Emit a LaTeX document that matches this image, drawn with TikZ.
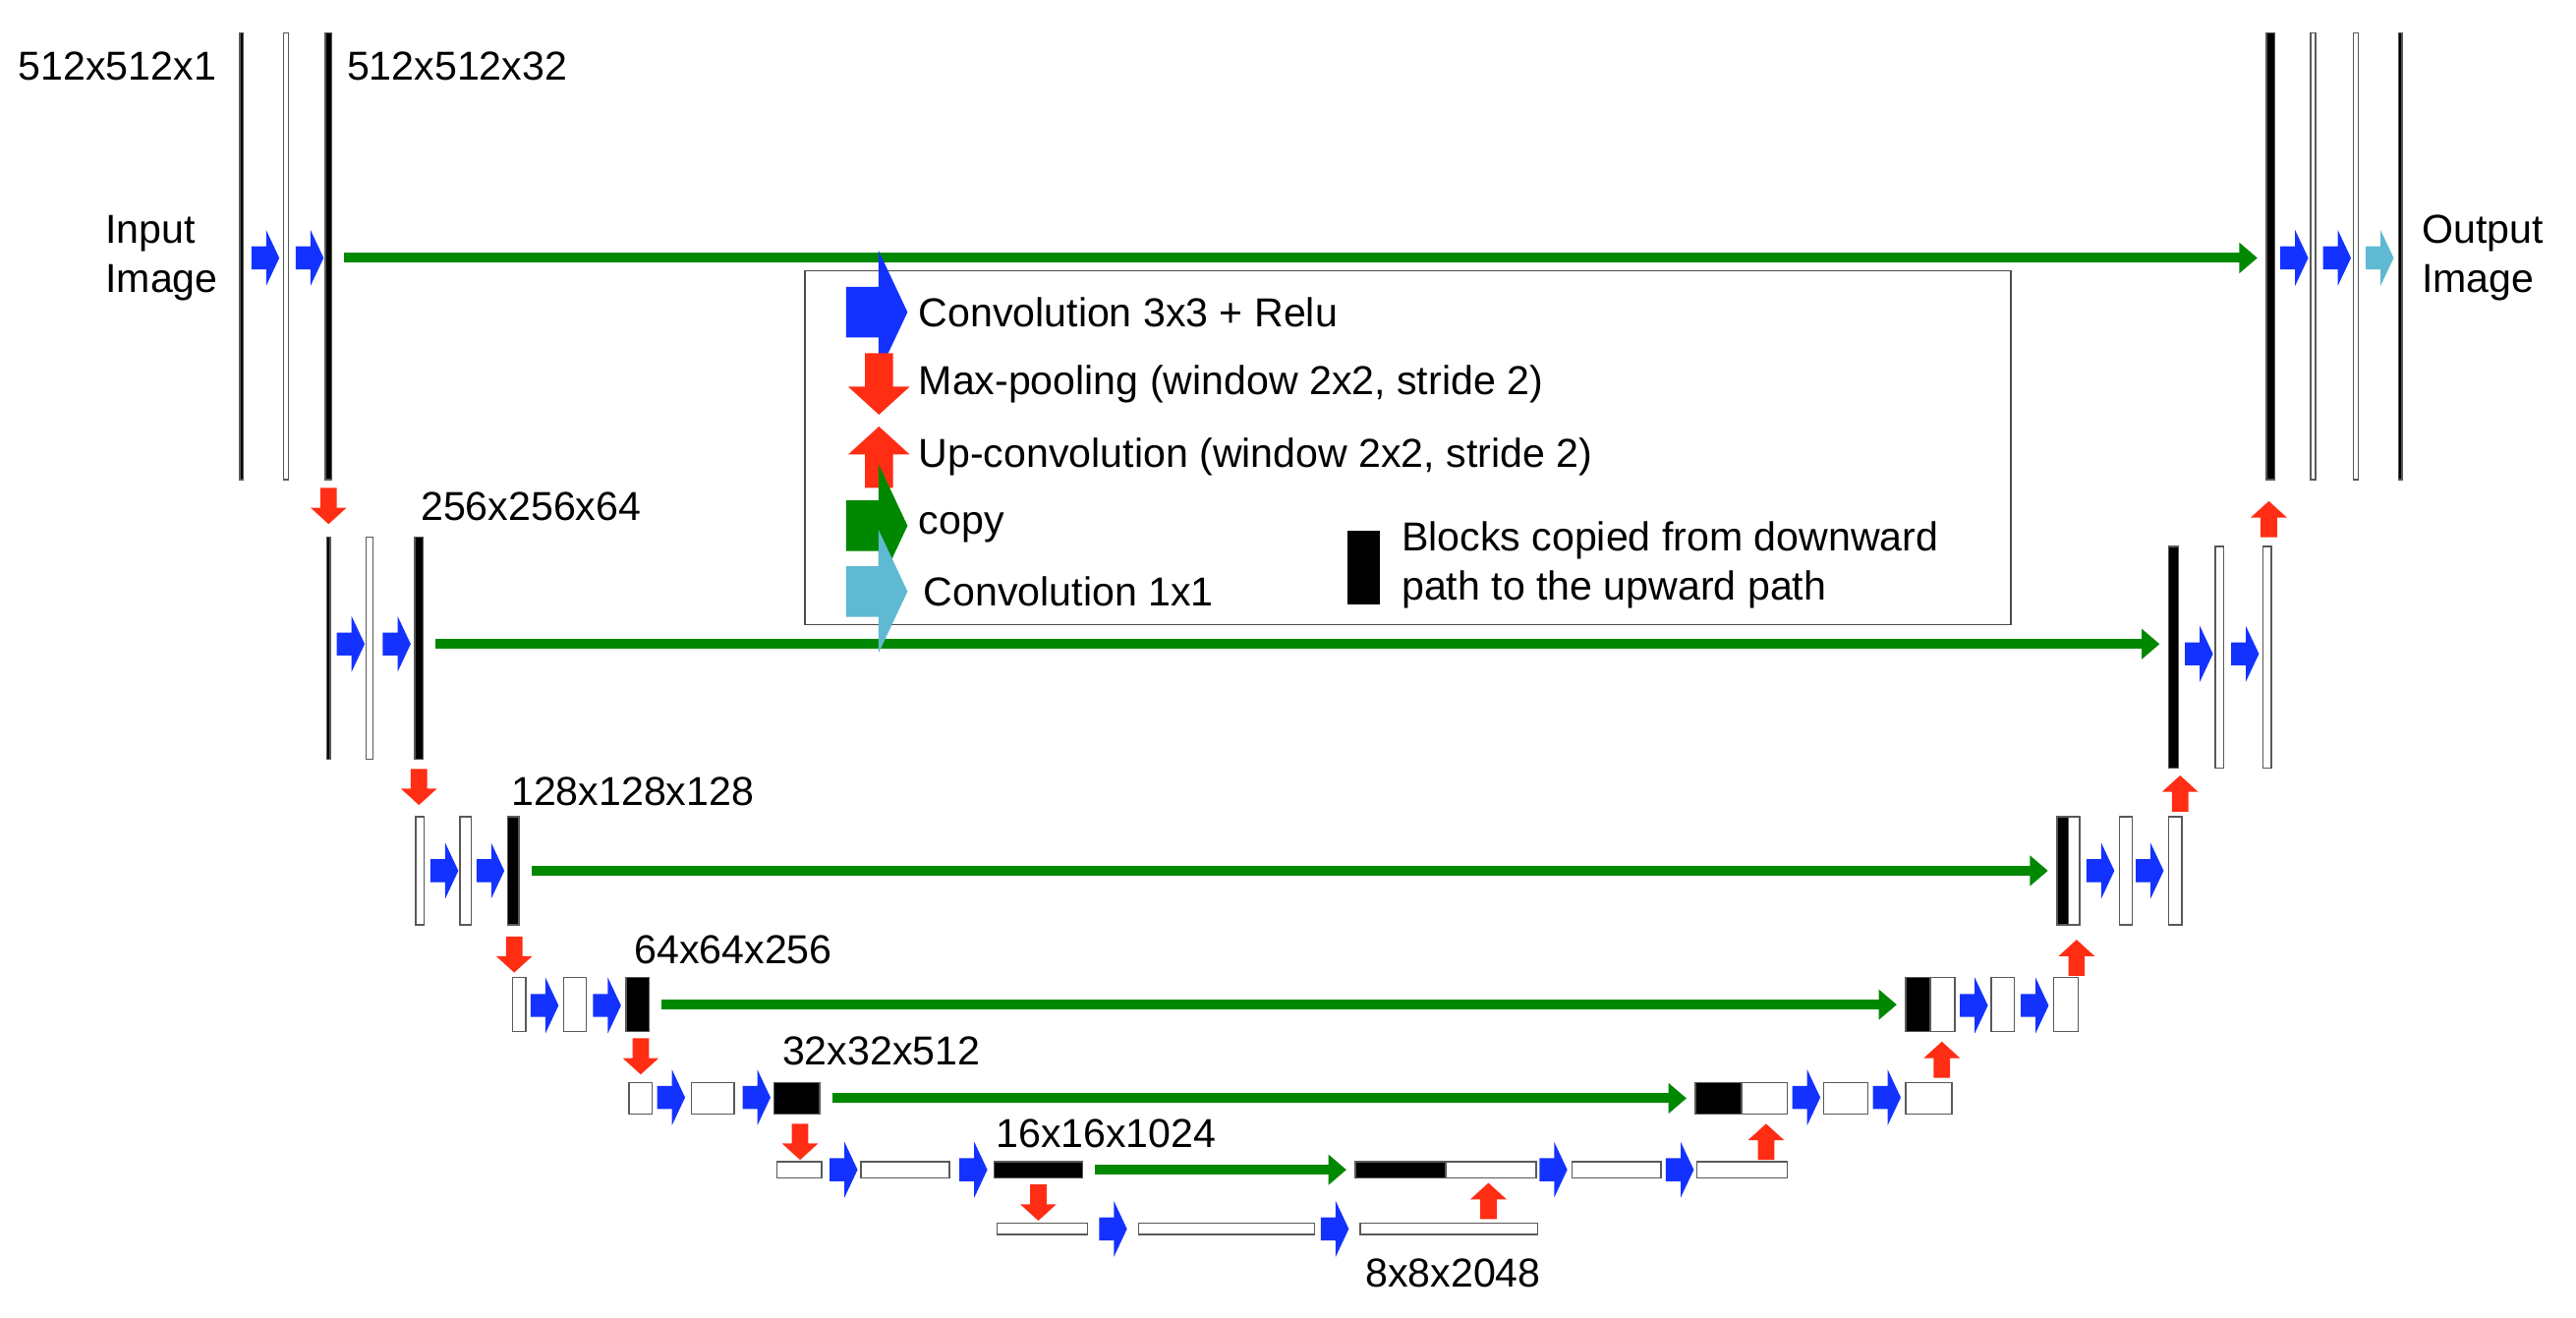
\documentclass[tikz,border=0pt]{standalone}
\usepackage{fontspec}
\setmainfont{Liberation Sans}
\usetikzlibrary{arrows.meta}

\definecolor{convblue}{RGB}{20,50,255}
\definecolor{poolred}{RGB}{255,45,20}
\definecolor{copygreen}{RGB}{0,136,0}
\definecolor{onecyan}{RGB}{95,185,210}

\tikzset{
  blk/.style = {rectangle, draw=gray!70!black, line width=0.5pt, inner sep=0pt},
  copy/.style = {draw=copygreen, line width=3.4pt, shorten <=0.14cm, shorten >=0.1cm,
                 -{Triangle[length=0.22cm, width=0.36cm]}},
  pics/fat/.style args = {#1/#2/#3/#4/#5}{code={
    \fill [#1] (0,-#3) -- (#5,-#3) -- (#5,-#4) -- (#2,0) -- (#5,#4) -- (#5,#3) -- (0,#3) -- cycle;
  }},
  pics/conv/.style = {fat={convblue/17/7/17/9}},
  pics/one/.style  = {fat={onecyan/17/7/17/9}},
  pics/pool/.style = {fat={poolred/22/5/11/12}},
}

% block from x1 to x2, centred at y
\newcommand\blk[6]{\node [blk, fill=#6, minimum width={(#3-#2)*0.02cm}, minimum height={#5*0.02cm}]
  (#1) at ({(#2+#3)/2}, #4) {};}

\begin{document}
\begin{tikzpicture}[x=0.02cm, y=-0.02cm, font=\fontsize{14pt}{17pt}\selectfont]
  \useasboundingbox (0,0) rectangle (1568,802);

  % Downward path.
  \blk{d0a}{146}{148}{156}{272}{black}
  \blk{d0b}{172.5}{175.5}{156}{272}{white}
  \blk{d0c}{198}{202}{156}{272}{black}
  \blk{d1a}{199}{201}{394.5}{135}{black}
  \blk{d1b}{223}{227}{394.5}{135}{white}
  \blk{d1c}{252.5}{257.5}{394.5}{135}{black}
  \blk{d2a}{253}{258}{530}{66}{white}
  \blk{d2b}{280}{287}{530}{66}{white}
  \blk{d2c}{309}{316}{530}{66}{black}
  \blk{d3a}{312}{320}{611.5}{33}{white}
  \blk{d3b}{343}{357}{611.5}{33}{white}
  \blk{d3c}{381}{395}{611.5}{33}{black}
  \blk{d4a}{383}{397}{668.5}{19}{white}
  \blk{d4b}{421}{447}{668.5}{19}{white}
  \blk{d4c}{471}{499}{668.5}{19}{black}
  \blk{d5a}{473}{500}{712}{10}{white}
  \blk{d5b}{524}{578}{712}{10}{white}
  \blk{d5c}{605}{659}{712}{10}{black}
  \blk{d6a}{607}{662}{748}{7}{white}
  \blk{d6b}{693}{800}{748}{7}{white}
  \blk{d6c}{828}{936}{748}{7}{white}

  % Upward path.
  \blk{u5a}{825}{880}{712}{10}{black}
  \blk{u5w}{880}{935}{712}{10}{white}
  \blk{u5b}{957}{1011}{712}{10}{white}
  \blk{u5c}{1033}{1088}{712}{10}{white}
  \blk{u4a}{1032}{1060}{668.5}{19}{black}
  \blk{u4w}{1060}{1088}{668.5}{19}{white}
  \blk{u4b}{1110}{1137}{668.5}{19}{white}
  \blk{u4c}{1160}{1188}{668.5}{19}{white}
  \blk{u3a}{1160}{1175}{611.5}{33}{black}
  \blk{u3w}{1175}{1190}{611.5}{33}{white}
  \blk{u3b}{1212}{1226}{611.5}{33}{white}
  \blk{u3c}{1250}{1265}{611.5}{33}{white}
  \blk{u2a}{1252}{1259}{530}{66}{black}
  \blk{u2w}{1259}{1266}{530}{66}{white}
  \blk{u2b}{1290}{1298}{530}{66}{white}
  \blk{u2c}{1320}{1328}{530}{66}{white}
  \blk{u1a}{1320}{1326}{400}{135}{black}
  \blk{u1b}{1348.5}{1353.5}{400}{135}{white}
  \blk{u1c}{1377.5}{1382.5}{400}{135}{white}
  \blk{u0a}{1379.5}{1384.5}{156}{272}{black}
  \blk{u0b}{1406.5}{1409.5}{156}{272}{white}
  \blk{u0c}{1432.5}{1435.5}{156}{272}{white}
  \blk{u0d}{1460}{1462}{156}{272}{black}

  % Convolutions.
  \foreach \x/\y in {153/157, 180/157, 205/392, 233/392, 262/530, 290/530,
                     323/612, 361/612, 400/668, 452/668, 505/712, 584/712,
                     669/748, 804/748, 937/712, 1014/712, 1091/668, 1140/668,
                     1193/612, 1230/612, 1270/530, 1300/530, 1330/398, 1358/398,
                     1388/157, 1414/157}
    \pic at (\x,\y) {conv};
  \pic at (1440,157) {one};

  % Pooling and up-convolution.
  \foreach \x/\y in {200/297, 255/468, 313/570, 390/632, 487/684, 632/721}
    \pic [rotate=-90] at (\x,\y) {pool};
  \foreach \x/\y in {1381/327, 1327/494, 1264/594, 1182/656, 1075/706, 906/742}
    \pic [rotate=90] at (\x,\y) {pool};

  % Copies.
  \draw [copy] (d0c.east |- 0,157) -- (u0a.west |- 0,157);
  \draw [copy] (d1c.east |- 0,392) -- (u1a.west |- 0,392);
  \draw [copy] (d2c) -- (u2a);
  \draw [copy] (d3c) -- (u3a);
  \draw [copy] (d4c) -- (u4a);
  \draw [copy] (d5c) -- (u5a);

  % Sizes.
  \node [anchor=west] (s0) at (5,40) {512x512x1};
  \node [anchor=west] (s1) at (205,40) {512x512x32};
  \node [anchor=west] (s2) at (250,308) {256x256x64};
  \node [anchor=west] (s3) at (305,482) {128x128x128};
  \node [anchor=west] (s4) at (380,578) {64x64x256};
  \node [anchor=west] (s5) at (470,640) {32x32x512};
  \node [anchor=west] (s6) at (600,690) {16x16x1024};
  \node [anchor=west] (s7) at (825,775) {8x8x2048};
  \node [anchor=west, align=left] (in)  at (58,157) {Input\\Image};
  \node [anchor=west, align=left] (out) at (1468,157) {Output\\Image};

  % Legend.
  \draw [gray!60!black] (490,165) rectangle (1224,380);
  \pic [scale=2.2] at (515,190) {conv};
  \pic [scale=1.7, rotate=-90] at (535,215) {pool};
  \pic [scale=1.7, rotate=90] at (535,297) {pool};
  \pic [scale=2.2] at (515,320) {fat={copygreen/17/7/17/9}};
  \pic [scale=2.2] at (515,360) {one};
  \fill (820,323) rectangle (840,368);
  \node [anchor=west] (l1) at (553,190) {Convolution 3x3 + Relu};
  \node [anchor=west] (l2) at (553,234) {Max-pooling (window 2x2, stride 2)};
  \node [anchor=west] (l3) at (553,278) {Up-convolution (window 2x2, stride 2)};
  \node [anchor=west] (l4) at (553,321) {copy};
  \node [anchor=west] (l5) at (556,360) {Convolution 1x1};
  \node [anchor=west, align=left] (l6) at (847,344) {Blocks copied from downward\\path to the upward path};
\end{tikzpicture}
\end{document}
